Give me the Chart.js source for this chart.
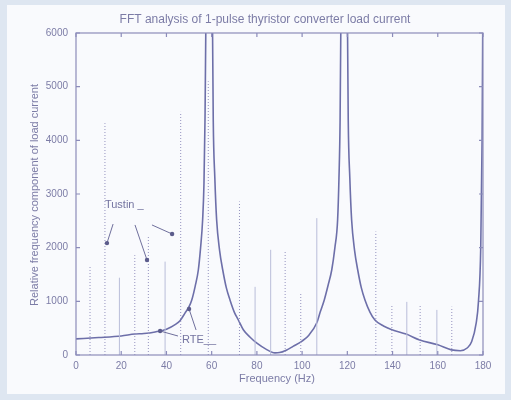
<!DOCTYPE html>
<html>
<head>
<meta charset="utf-8">
<script src="https://cdn.jsdelivr.net/npm/chart.js@4"></script>
<style>
  html, body { margin: 0; padding: 0; background: #dee6f1; }
  #wrap { width: 511px; height: 400px; }
</style>
</head>
<body>
<div id="wrap"><canvas id="fft" width="511" height="400"></canvas></div>
<script>
// RTE simulated spectrum (continuous curve)
const curveHz = [0, 10, 20, 26, 30, 35, 40, 44, 46, 48.2, 50, 51.2, 52.7, 54.1, 55.1, 56, 56.6, 57.05, 57.5, 58.9, 60.3, 60.7, 61.4, 62.2, 63.5, 64.9, 66.5, 68.1, 70, 71.8, 74, 77, 80, 84, 88, 90, 93, 96, 100, 103, 106.5, 108, 109.8, 111.5, 113.1, 114.5, 115.7, 116.3, 116.8, 117.2, 118.6, 120, 120.4, 121.1, 121.9, 123.2, 124.6, 126.2, 127.8, 130, 132.2, 136, 139.7, 146, 152, 160, 166, 170, 173, 175, 177, 178, 179, 179.6, 180];
const curveAmp = [300, 325, 355, 390, 400, 430, 480, 570, 640, 780, 900, 1025, 1280, 1584, 2000, 2515, 3200, 4379, 6500, 20000, 6500, 4379, 3300, 2515, 1950, 1584, 1250, 1025, 800, 652, 470, 330, 220, 110, 40, 45, 90, 160, 260, 370, 600, 800, 1025, 1300, 1584, 2000, 2515, 3300, 4379, 6500, 20000, 6500, 4379, 3300, 2515, 1950, 1584, 1250, 1025, 800, 652, 540, 470, 390, 280, 190, 95, 80, 130, 250, 600, 1000, 2000, 4000, 7000];

// Tustin harmonic lines (dotted stems)
const tustinHz = [6.2, 12.8, 26, 32, 46.3, 58.5, 72.3, 92.5, 99.4, 132.6, 139.7, 152.2, 166.2];
const tustinAmp = [1650, 4320, 1860, 2200, 4530, 5100, 2860, 1920, 1160, 2300, 930, 930, 900];

// RTE harmonic lines (solid stems)
const rteHz = [19.2, 39.4, 79.2, 86.1, 106.5, 146.3, 159.6];
const rteAmp = [1440, 1740, 1270, 1960, 2550, 990, 840];

const xTicks = [0, 20, 40, 60, 80, 100, 120, 140, 160, 180];
const yTicks = [0, 1000, 2000, 3000, 4000, 5000, 6000];

const axisColor = '#8c8cba';
const textColor = '#7c7ca6';
const fontFamily = '"Liberation Sans", Arial, sans-serif';

const datasets = [];
tustinHz.forEach((f, i) => {
  datasets.push({
    data: [{ x: f, y: 0 }, { x: f, y: tustinAmp[i] }],
    borderColor: '#9492bf',
    borderWidth: 1,
    borderDash: [1, 2],
    pointRadius: 0
  });
});
rteHz.forEach((f, i) => {
  datasets.push({
    data: [{ x: f, y: 0 }, { x: f, y: rteAmp[i] }],
    borderColor: '#b9bdd9',
    borderWidth: 1,
    pointRadius: 0
  });
});
datasets.push({
  data: curveHz.map((f, i) => ({ x: f, y: curveAmp[i] })),
  borderColor: '#6d6fa9',
  borderWidth: 1.6,
  pointRadius: 0,
  cubicInterpolationMode: 'monotone'
});

// annotation arrows in data units: [fromHz, fromAmp, toHz, toAmp]
const arrows = [
  [16.4, 2440, 13.7, 2085],
  [26.1, 2423, 31.4, 1770],
  [33.6, 2423, 42.5, 2255],
  [53.1, 466, 50.0, 857],
  [45.1, 354, 37.2, 447]
];

const decor = {
  id: 'decor',
  beforeDraw(chart) {
    const ctx = chart.ctx;
    ctx.save();
    ctx.fillStyle = '#dee6f1';
    ctx.fillRect(0, 0, chart.width, chart.height);
    ctx.fillStyle = '#f9fafd';
    ctx.fillRect(7, 5, 498, 389);
    ctx.restore();
  },
  afterDatasetsDraw(chart) {
    const { ctx, chartArea: a, scales: { x, y } } = chart;
    ctx.save();
    // axes box
    ctx.strokeStyle = axisColor;
    ctx.lineWidth = 1.2;
    ctx.strokeRect(a.left, a.top, a.right - a.left, a.bottom - a.top);
    // inward ticks
    ctx.beginPath();
    xTicks.forEach(t => {
      const px = x.getPixelForValue(t);
      ctx.moveTo(px, a.bottom); ctx.lineTo(px, a.bottom - 4);
      ctx.moveTo(px, a.top); ctx.lineTo(px, a.top + 4);
    });
    yTicks.forEach(t => {
      const py = y.getPixelForValue(t);
      ctx.moveTo(a.left, py); ctx.lineTo(a.left + 4, py);
      ctx.moveTo(a.right, py); ctx.lineTo(a.right - 4, py);
    });
    ctx.stroke();

    // arrows
    ctx.strokeStyle = '#6f6f9c';
    ctx.fillStyle = '#5c5c8c';
    ctx.lineWidth = 1;
    arrows.forEach(([f0, v0, f1, v1]) => {
      const x0 = x.getPixelForValue(f0), y0 = y.getPixelForValue(v0);
      const x1 = x.getPixelForValue(f1), y1 = y.getPixelForValue(v1);
      ctx.beginPath();
      ctx.moveTo(x0, y0); ctx.lineTo(x1, y1);
      ctx.stroke();
      ctx.beginPath();
      ctx.arc(x1, y1, 2.2, 0, Math.PI * 2);
      ctx.fill();
    });

    // labels
    ctx.fillStyle = '#7474a0';
    ctx.font = '11px ' + fontFamily;
    ctx.textBaseline = 'middle';
    ctx.textAlign = 'left';
    ctx.fillText('Tustin _', x.getPixelForValue(12.8), y.getPixelForValue(2795));
    ctx.fillText('RTE__', x.getPixelForValue(46.9), y.getPixelForValue(280));

    // titles
    ctx.fillStyle = textColor;
    ctx.font = '12px ' + fontFamily;
    ctx.textAlign = 'center';
    ctx.fillText('FFT analysis of 1-pulse thyristor converter load current', 265, 20);
    ctx.font = '11px ' + fontFamily;
    ctx.fillText('Frequency (Hz)', 277, 379);
    ctx.translate(35, 195);
    ctx.rotate(-Math.PI / 2);
    ctx.fillText('Relative frequency component of load current', 0, 0);
    ctx.restore();
  }
};

new Chart(document.getElementById('fft'), {
  type: 'line',
  data: { datasets },
  options: {
    responsive: false,
    animation: false,
    layout: { padding: { top: 33, right: 28, left: 0, bottom: 0 } },
    plugins: { legend: { display: false }, tooltip: { enabled: false } },
    scales: {
      x: {
        type: 'linear',
        min: 0,
        max: 180,
        grid: { display: false, drawTicks: false },
        border: { display: false },
        ticks: {
          stepSize: 20, padding: 5, color: textColor, maxRotation: 0,
          font: { family: fontFamily, size: 10 },
          callback: v => String(v)
        },
        afterFit(scale) { scale.height = 45; }
      },
      y: {
        min: 0,
        max: 6000,
        grid: { display: false, drawTicks: false },
        border: { display: false },
        ticks: {
          stepSize: 1000, padding: 8, color: textColor,
          font: { family: fontFamily, size: 10 },
          callback: v => String(v)
        },
        afterFit(scale) { scale.width = 76; }
      }
    }
  },
  plugins: [decor]
});
</script>
</body>
</html>
